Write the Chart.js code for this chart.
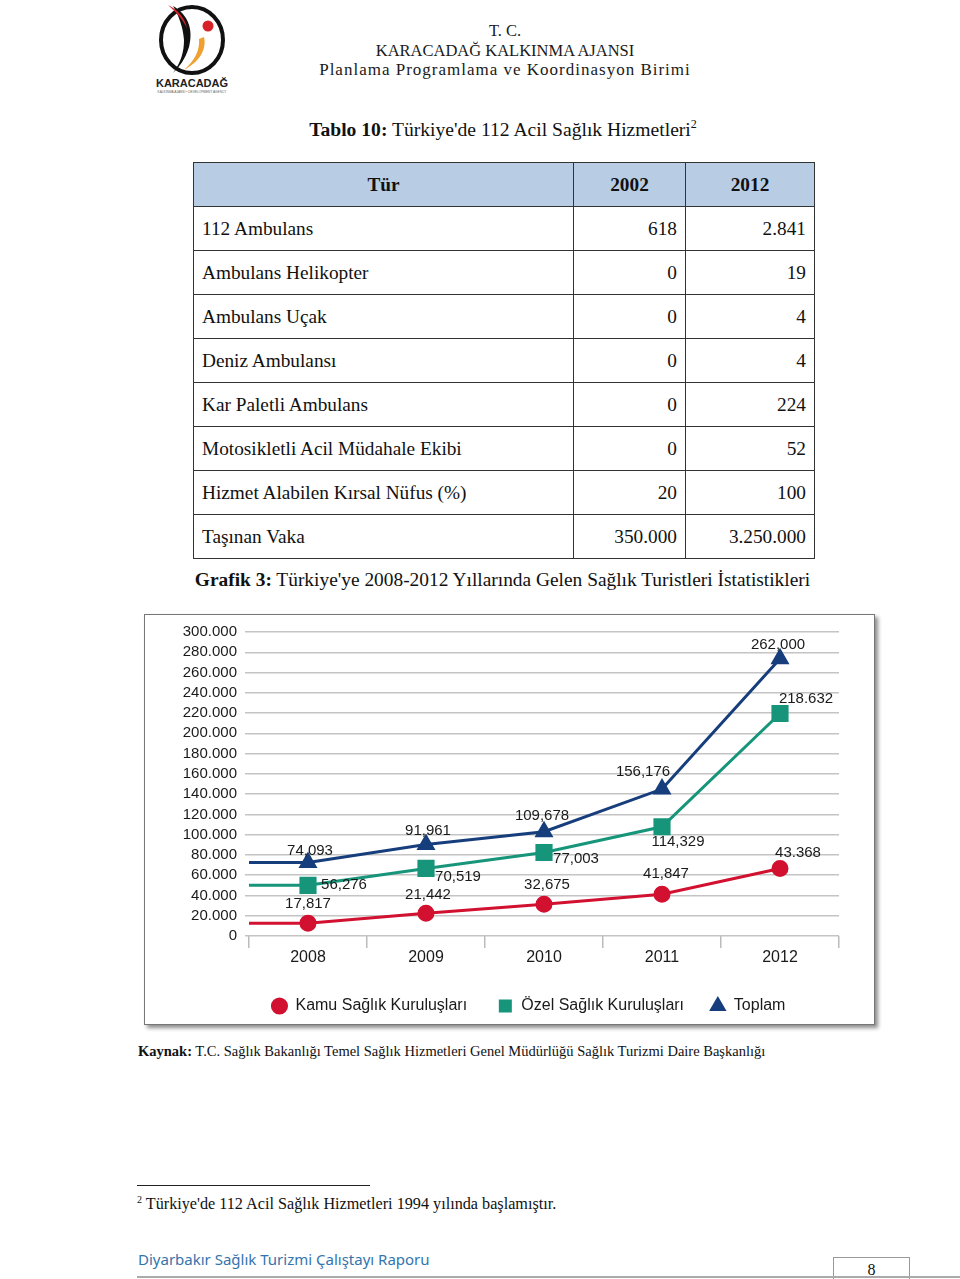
<!DOCTYPE html>
<html lang="tr">
<head>
<meta charset="utf-8">
<script src="https://cdn.jsdelivr.net/npm/chart.js@4.4.0/dist/chart.umd.min.js"></script>
<style>
  body { margin: 0; width: 960px; height: 1279px; background: #fff; position: relative; font-family: "Liberation Serif", serif; color: #111; overflow: hidden; }
  .abs { position: absolute; }
  #head { left: 250px; top: 21px; width: 510px; text-align: center; font-size: 16.5px; line-height: 19.5px; color: #1a1a1a; }
  #head .l3 { font-size: 17px; letter-spacing: 1px; }
  #title { left: 0; width: 1006px; top: 117px; text-align: center; font-size: 19.6px; }
  #title sup { font-size: 12px; }
  table { position: absolute; left: 193px; top: 162px; border-collapse: collapse; font-size: 19.3px; }
  td, th { border: 1px solid #333; height: 43px; padding: 0 8px; }
  th { background: #b8cce4; font-weight: bold; text-align: center; }
  td.n { text-align: right; }
  #caption { left: 0; width: 1005px; top: 569px; text-align: center; font-size: 19.4px; }
  #box { left: 144px; top: 614px; width: 729px; height: 409px; border: 1px solid #777; box-shadow: 3px 3px 4px rgba(0,0,0,0.45); background: #fff; }
  #kaynak { left: 138px; top: 1043px; font-size: 14.5px; }
  #fnline { left: 137px; top: 1185px; width: 233px; height: 1px; background: #222; }
  #fn { left: 137px; top: 1194px; font-size: 16.2px; }
  #fn sup { font-size: 10px; }
  #footer { left: 138px; top: 1249px; font-family: "Noto Sans", sans-serif; font-size: 15px; color: #3474ad; }
  #pg { left: 833px; top: 1257px; width: 75px; height: 22px; border: 1px solid #999; border-bottom: none; text-align: center; font-size: 16px; line-height: 24px; }
  #bottomline { left: 137px; top: 1276px; width: 823px; height: 2px; background: #aaa; }
</style>
</head>
<body>

<svg class="abs" style="left:152px;top:2px" width="80" height="94" viewBox="0 0 80 94">
  <ellipse cx="40" cy="38" rx="31" ry="33" fill="none" stroke="#111" stroke-width="4"/>
  <path d="M21 4 C35 12 42 26 37 45 C33 58 27 65 21 71 C29 60 32 50 32 38 C31 25 27 14 21 4 Z" fill="#111"/>
  <path d="M16 3 C26 8 33 16 35 26 C31 18 25 11 16 3 Z" fill="#d6232a"/>
  <circle cx="56" cy="24" r="5.5" fill="#d6232a"/>
  <path d="M52 35 C55 48 47 60 32 68 C43 58 48 48 47 37 Z" fill="#f0a030"/>
  <text x="40" y="85" text-anchor="middle" font-family="Liberation Sans, sans-serif" font-weight="bold" font-size="11" fill="#222">KARACADAĞ</text>
  <text x="40" y="91" text-anchor="middle" font-family="Liberation Sans, sans-serif" font-size="3.2" fill="#666">KALKINMA AJANSI • DEVELOPMENT AGENCY</text>
</svg>

<div id="head" class="abs">T. C.<br>KARACADAĞ KALKINMA AJANSI<br><span class="l3">Planlama Programlama ve Koordinasyon Birimi</span></div>

<div id="title" class="abs"><b>Tablo 10:</b> Türkiye'de 112 Acil Sağlık Hizmetleri<sup>2</sup></div>

<table id="tbl"></table>

<div id="caption" class="abs"><b>Grafik 3:</b> Türkiye'ye 2008-2012 Yıllarında Gelen Sağlık Turistleri İstatistikleri</div>

<div id="box" class="abs"><canvas id="chart" width="729" height="409"></canvas></div>

<div id="kaynak" class="abs"><b>Kaynak:</b> T.C. Sağlık Bakanlığı Temel Sağlık Hizmetleri Genel Müdürlüğü Sağlık Turizmi Daire Başkanlığı</div>

<div id="fnline" class="abs"></div>
<div id="fn" class="abs"><sup>2</sup> Türkiye'de 112 Acil Sağlık Hizmetleri 1994 yılında başlamıştır.</div>

<div id="footer" class="abs">Diyarbakır Sağlık Turizmi Çalıştayı Raporu</div>
<div id="pg" class="abs">8</div>
<div id="bottomline" class="abs"></div>

<script>
// table 10
let tableHead = ["Tür", "2002", "2012"]
let tableRows = ["112 Ambulans", "Ambulans Helikopter", "Ambulans Uçak", "Deniz Ambulansı", "Kar Paletli Ambulans", "Motosikletli Acil Müdahale Ekibi", "Hizmet Alabilen Kırsal Nüfus (%)", "Taşınan Vaka"]
let values2002 = ["618", "0", "0", "0", "0", "0", "20", "350.000"]
let values2012 = ["2.841", "19", "4", "4", "224", "52", "100", "3.250.000"]

// grafik 3
let years = ["2008", "2009", "2010", "2011", "2012"]
let seriesNames = ["Kamu Sağlık Kuruluşları", "Özel Sağlık Kuruluşları", "Toplam"]
// values as drawn in the picture
let kamu = [12700, 22500, 31400, 41200, 66700]
let ozel = [50000, 66700, 82400, 107800, 219600]
let toplam = [72500, 90200, 102900, 145000, 273500]
// labels as printed next to the points
let kamuLabels = ["17,817", "21,442", "32,675", "41,847", "43.368"]
let ozelLabels = ["56,276", "70,519", "77,003", "114,329", "218.632"]
let toplamLabels = ["74,093", "91,961", "109,678", "156,176", "262,000"]

let tbl = document.getElementById("tbl")
let html = "<tr><th style='width:363px'>" + tableHead[0] + "</th><th style='width:95px'>" + tableHead[1] + "</th><th style='width:112px'>" + tableHead[2] + "</th></tr>"
for (let i = 0; i < tableRows.length; i++) {
    html += "<tr><td>" + tableRows[i] + "</td><td class='n'>" + values2002[i] + "</td><td class='n'>" + values2012[i] + "</td></tr>"
}
tbl.innerHTML = html

let red = "#d2102f"
let teal = "#16957a"
let navy = "#173e7c"
let font = "'Liberation Sans', Arial, sans-serif"

// label offsets (dx, dy) per dataset and point
let labelOffsets = [
    [[0, -19], [2, -18], [3, -19], [4, -20], [18, -16]],
    [[36, 0], [32, 8], [32, 6], [16, 15], [26, -15]],
    [[2, -12], [2, -14], [-2, -16], [-19, -17], [-2, -14]]
]
let labelTexts = [kamuLabels, ozelLabels, toplamLabels]
let legendGaps = ["     ", "    ", "       "]

let pointLabels = {
    id: "pointLabels",
    afterDatasetsDraw(chart) {
        let c = chart.ctx
        c.save()
        c.font = "15px " + font
        c.fillStyle = "#1a1a1a"
        c.textAlign = "center"
        c.textBaseline = "middle"
        chart.data.datasets.forEach(function (ds, d) {
            chart.getDatasetMeta(d).data.forEach(function (pt, i) {
                let off = labelOffsets[d][i]
                c.fillText(labelTexts[d][i], pt.x + off[0], pt.y + off[1])
            })
        })
        c.restore()
    }
}

// lines run flat from the plot edge to the first point
let leadIn = {
    id: "leadIn",
    beforeDatasetsDraw(chart) {
        let c = chart.ctx
        c.save()
        chart.data.datasets.forEach(function (ds, d) {
            let first = chart.getDatasetMeta(d).data[0]
            c.strokeStyle = ds.borderColor
            c.lineWidth = ds.borderWidth
            c.beginPath()
            c.moveTo(chart.chartArea.left, first.y)
            c.lineTo(first.x, first.y)
            c.stroke()
        })
        c.restore()
    }
}

let ctx = document.getElementById("chart").getContext("2d")
let chart = new Chart(ctx, {
    type: "line",
    data: {
        labels: years,
        datasets: [{
            label: seriesNames[0],
            data: kamu,
            borderColor: red,
            backgroundColor: red,
            borderWidth: 3,
            pointStyle: "circle",
            pointRadius: 7
        }, {
            label: seriesNames[1],
            data: ozel,
            borderColor: teal,
            backgroundColor: teal,
            borderWidth: 3,
            pointStyle: "rect",
            pointRadius: 10
        }, {
            label: seriesNames[2],
            data: toplam,
            borderColor: navy,
            backgroundColor: navy,
            borderWidth: 3,
            pointStyle: "triangle",
            pointRadius: 8
        }]
    },
    options: {
        responsive: false,
        animation: false,
        layout: { padding: { left: 0, right: 35, top: 17, bottom: 0 } },
        plugins: {
            tooltip: { enabled: false },
            legend: {
                position: "bottom",
                fullSize: false,
                labels: {
                    usePointStyle: true,
                    boxHeight: 10,
                    padding: 8,
                    color: "#1a1a1a",
                    font: { family: font, size: 16 },
                    // wider gaps between the legend entries
                    generateLabels: function (chart) {
                        let items = Chart.defaults.plugins.legend.labels.generateLabels(chart)
                        items.forEach(function (it, i) { it.text = it.text + legendGaps[i] })
                        return items
                    }
                }
            }
        },
        scales: {
            x: {
                offset: true,
                afterFit: function (s) { s.height = 54 },
                grid: { offset: true, drawOnChartArea: false, tickLength: 12, color: "#bbb", lineWidth: 1.5 },
                border: { display: false },
                ticks: { color: "#1a1a1a", padding: 0, font: { family: font, size: 16 } }
            },
            y: {
                min: 0,
                max: 300000,
                afterFit: function (s) { s.width = 104 },
                grid: { color: "#c4c4c4", lineWidth: 1.5, tickLength: 4 },
                border: { display: false },
                ticks: {
                    stepSize: 20000,
                    autoSkip: false,
                    color: "#1a1a1a",
                    padding: 8,
                    font: { family: font, size: 15 },
                    callback: function (v) { return v.toLocaleString("de-DE") }
                }
            }
        }
    },
    plugins: [leadIn, pointLabels]
})
</script>
</body>
</html>
